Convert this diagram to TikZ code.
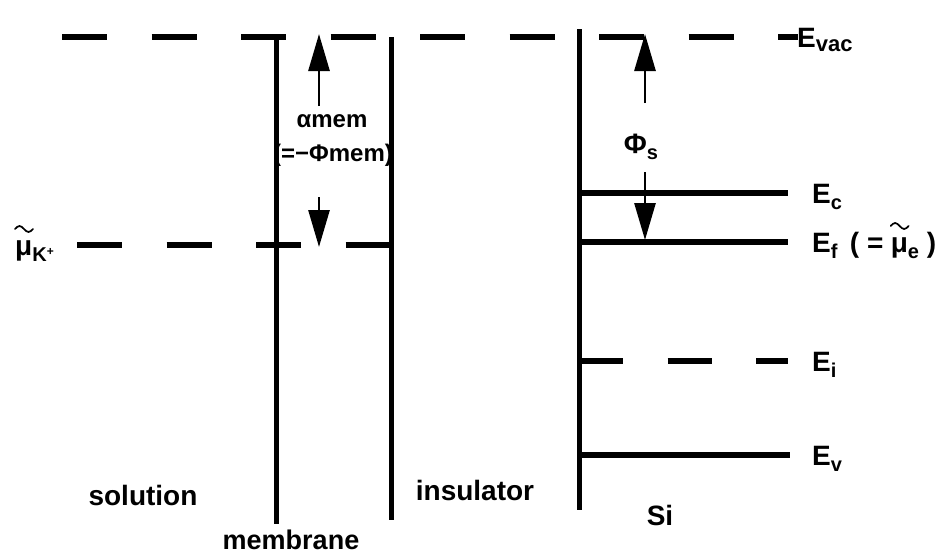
\documentclass[tikz,border=0pt]{standalone}
\usepackage{fontspec}
\setmainfont{Liberation Sans}
\usetikzlibrary{arrows.meta,calc}
\newcommand{\lowsub}[1]{\raisebox{-6pt}{\fontsize{20}{20}\selectfont #1}}
\begin{document}
\begin{tikzpicture}[x=1pt,y=-1pt,
  wall/.style={line width=5pt},
  level/.style={line width=5.5pt},
  dashlevel/.style={line width=5.5pt,dash pattern=on 45pt off 44.5pt},
  gap/.style={line width=2.8pt,-{Triangle[length=37pt,width=21pt]}},
  lbl/.style={inner sep=0pt,font=\fontsize{28}{32}\selectfont\bfseries},
  small/.style={inner sep=0pt,font=\fontsize{24}{27}\selectfont\bfseries},
  pics/tild/.style={code={\draw[line width=1.7pt,line cap=round] (0,0) sin (4.5,-3) cos (9,0) sin (13.5,3) cos (18,0);}},
]
\useasboundingbox (0,0) rectangle (943,554);
% vertical walls
\coordinate (w1t) at (276,37);  \coordinate (w1b) at (276,524);
\coordinate (w2t) at (391,37);  \coordinate (w2b) at (391,520);
\coordinate (w3t) at (579,29);  \coordinate (w3b) at (579,510);
\draw[wall] (w1t) -- (w1b);
\draw[wall] (w2t) -- (w2b);
\draw[wall] (w3t) -- (w3b);
% vacuum level
\coordinate (vacL) at (62,37); \coordinate (vacR) at (798,37);
\draw[dashlevel] (vacL) -- (vacR);
% mu K+ level
\coordinate (muL) at (77,245); \coordinate (muR) at (391,245);
\draw[dashlevel] (muL) -- (muR);
% Si levels
\coordinate (ecL) at (579,193); \coordinate (ecR) at (788,193);
\coordinate (efL) at (579,242); \coordinate (efR) at (788,242);
\coordinate (eiL) at (579,361); \coordinate (eiR) at (788,361);
\coordinate (evL) at (579,455); \coordinate (evR) at (790,455);
\draw[level] (ecL) -- (ecR);
\draw[level] (efL) -- (efR);
\draw[dashlevel,dash pattern=on 44pt off 44.5pt] (eiL) -- (eiR);
\draw[level] (evL) -- (evR);
% membrane gap arrows
\coordinate (m1) at (319,106); \coordinate (m1t) at (319,34);
\coordinate (m2) at (319,197); \coordinate (m2t) at (319,247);
\draw[gap] (m1) -- (m1t);
\draw[gap] (m2) -- (m2t);
\node[small] (alpha) at (332,121) {αmem};
\node[small] (phimem) at (333,155) {(=−Φmem)};
% Si gap arrows
\coordinate (s1) at (645,103); \coordinate (s1t) at (645,34);
\coordinate (s2) at (645,172); \coordinate (s2t) at (645,240);
\draw[gap] (s1) -- (s1t);
\draw[gap] (s2) -- (s2t);
\node[lbl] (phis) at (641,147) {Φ\lowsub{s}};
% level labels
\node[lbl,anchor=base west] (evac) at (797,47) {E\raisebox{-4pt}{\fontsize{22}{22}\selectfont\bfseries vac}};
\node[lbl,anchor=base west] (ec) at (812,203) {E\lowsub{c}};
\node[lbl,anchor=base west] (ef) at (812,252) {E\lowsub{f}\, ( =};
\node[lbl,anchor=base west] (mue) at ($(ef.base east)+(7,0)$) {μ\lowsub{e} )};
\pic at ($(mue.base west)+(0,-26)$) {tild};
\node[lbl,anchor=base west] (ei) at (812,371) {E\lowsub{i}};
\node[lbl,anchor=base west] (ev) at (812,465) {E\lowsub{v}};
\node[lbl,anchor=base west] (muk) at (15,255) {μ\lowsub{K\raisebox{6pt}{\fontsize{12}{12}\selectfont +}}};
\pic at ($(muk.base west)+(0,-26)$) {tild};
% region labels
\node[lbl] (sol) at (143,495) {solution};
\node[lbl,font=\fontsize{27}{30}\selectfont\bfseries] (mem) at (291,540) {membrane};
\node[lbl] (ins) at (475,490) {insulator};
\node[lbl] (si) at (660,515) {Si};
\end{tikzpicture}
\end{document}
